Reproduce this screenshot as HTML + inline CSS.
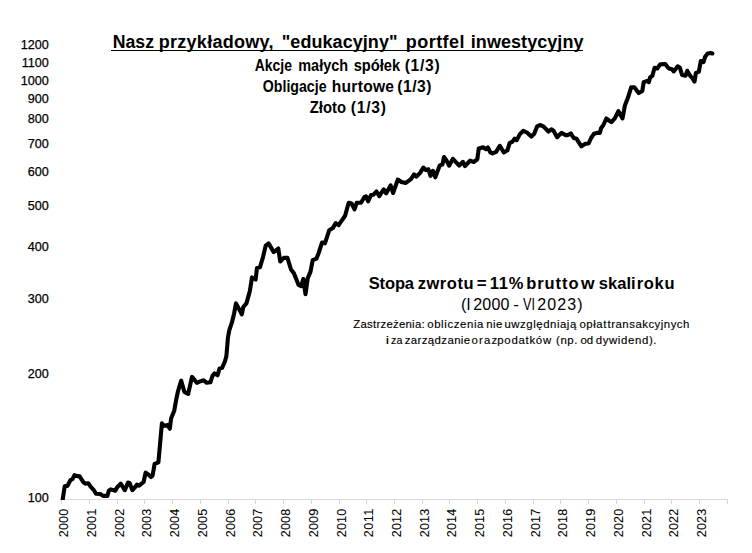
<!DOCTYPE html><html><head><meta charset="utf-8"><style>html,body{margin:0;padding:0;background:#fff;}svg{display:block;}</style></head><body>
<svg width="752" height="553" viewBox="0 0 752 553" font-family='"Liberation Sans", sans-serif'>
<rect width="752" height="553" fill="#fff"/>
<g stroke="#d9d9d9" stroke-width="1" fill="none" shape-rendering="crispEdges">
<line x1="61" y1="499.5" x2="728" y2="499.5"/>
<line x1="61.5" y1="499.5" x2="61.5" y2="504.0"/>
<line x1="89.5" y1="499.5" x2="89.5" y2="504.0"/>
<line x1="117.5" y1="499.5" x2="117.5" y2="504.0"/>
<line x1="144.5" y1="499.5" x2="144.5" y2="504.0"/>
<line x1="172.5" y1="499.5" x2="172.5" y2="504.0"/>
<line x1="200.5" y1="499.5" x2="200.5" y2="504.0"/>
<line x1="228.5" y1="499.5" x2="228.5" y2="504.0"/>
<line x1="255.5" y1="499.5" x2="255.5" y2="504.0"/>
<line x1="283.5" y1="499.5" x2="283.5" y2="504.0"/>
<line x1="311.5" y1="499.5" x2="311.5" y2="504.0"/>
<line x1="339.5" y1="499.5" x2="339.5" y2="504.0"/>
<line x1="366.5" y1="499.5" x2="366.5" y2="504.0"/>
<line x1="394.5" y1="499.5" x2="394.5" y2="504.0"/>
<line x1="422.5" y1="499.5" x2="422.5" y2="504.0"/>
<line x1="449.5" y1="499.5" x2="449.5" y2="504.0"/>
<line x1="477.5" y1="499.5" x2="477.5" y2="504.0"/>
<line x1="505.5" y1="499.5" x2="505.5" y2="504.0"/>
<line x1="533.5" y1="499.5" x2="533.5" y2="504.0"/>
<line x1="560.5" y1="499.5" x2="560.5" y2="504.0"/>
<line x1="588.5" y1="499.5" x2="588.5" y2="504.0"/>
<line x1="616.5" y1="499.5" x2="616.5" y2="504.0"/>
<line x1="644.5" y1="499.5" x2="644.5" y2="504.0"/>
<line x1="671.5" y1="499.5" x2="671.5" y2="504.0"/>
<line x1="699.5" y1="499.5" x2="699.5" y2="504.0"/>
<line x1="727.5" y1="499.5" x2="727.5" y2="504.0"/>
</g>
<g font-size="12.6" fill="#000" stroke="#000" stroke-width="0.25" text-anchor="end">
<text x="48.8" y="48.6">1200</text>
<text x="48.8" y="66.5">1100</text>
<text x="48.8" y="84.7">1000</text>
<text x="48.8" y="102.5">900</text>
<text x="48.8" y="123.4">800</text>
<text x="48.8" y="147.6">700</text>
<text x="48.8" y="175.7">600</text>
<text x="48.8" y="209.7">500</text>
<text x="48.8" y="251.0">400</text>
<text x="48.8" y="302.9">300</text>
<text x="48.8" y="377.6">200</text>
<text x="48.8" y="502.4">100</text>
</g>
<g font-size="12.6" fill="#000" stroke="#000" stroke-width="0.08">
<text transform="translate(67.7,537.2) rotate(-90)" x="0" y="0" textLength="28.4" lengthAdjust="spacing">2000</text>
<text transform="translate(95.7,537.2) rotate(-90)" x="0" y="0" textLength="28.4" lengthAdjust="spacing">2001</text>
<text transform="translate(123.7,537.2) rotate(-90)" x="0" y="0" textLength="28.4" lengthAdjust="spacing">2002</text>
<text transform="translate(150.7,537.2) rotate(-90)" x="0" y="0" textLength="28.4" lengthAdjust="spacing">2003</text>
<text transform="translate(178.7,537.2) rotate(-90)" x="0" y="0" textLength="28.4" lengthAdjust="spacing">2004</text>
<text transform="translate(206.7,537.2) rotate(-90)" x="0" y="0" textLength="28.4" lengthAdjust="spacing">2005</text>
<text transform="translate(234.7,537.2) rotate(-90)" x="0" y="0" textLength="28.4" lengthAdjust="spacing">2006</text>
<text transform="translate(261.7,537.2) rotate(-90)" x="0" y="0" textLength="28.4" lengthAdjust="spacing">2007</text>
<text transform="translate(289.7,537.2) rotate(-90)" x="0" y="0" textLength="28.4" lengthAdjust="spacing">2008</text>
<text transform="translate(317.7,537.2) rotate(-90)" x="0" y="0" textLength="28.4" lengthAdjust="spacing">2009</text>
<text transform="translate(345.7,537.2) rotate(-90)" x="0" y="0" textLength="28.4" lengthAdjust="spacing">2010</text>
<text transform="translate(372.7,537.2) rotate(-90)" x="0" y="0" textLength="28.4" lengthAdjust="spacing">2011</text>
<text transform="translate(400.7,537.2) rotate(-90)" x="0" y="0" textLength="28.4" lengthAdjust="spacing">2012</text>
<text transform="translate(428.7,537.2) rotate(-90)" x="0" y="0" textLength="28.4" lengthAdjust="spacing">2013</text>
<text transform="translate(455.7,537.2) rotate(-90)" x="0" y="0" textLength="28.4" lengthAdjust="spacing">2014</text>
<text transform="translate(483.7,537.2) rotate(-90)" x="0" y="0" textLength="28.4" lengthAdjust="spacing">2015</text>
<text transform="translate(511.7,537.2) rotate(-90)" x="0" y="0" textLength="28.4" lengthAdjust="spacing">2016</text>
<text transform="translate(539.7,537.2) rotate(-90)" x="0" y="0" textLength="28.4" lengthAdjust="spacing">2017</text>
<text transform="translate(566.7,537.2) rotate(-90)" x="0" y="0" textLength="28.4" lengthAdjust="spacing">2018</text>
<text transform="translate(594.7,537.2) rotate(-90)" x="0" y="0" textLength="28.4" lengthAdjust="spacing">2019</text>
<text transform="translate(622.7,537.2) rotate(-90)" x="0" y="0" textLength="28.4" lengthAdjust="spacing">2020</text>
<text transform="translate(650.7,537.2) rotate(-90)" x="0" y="0" textLength="28.4" lengthAdjust="spacing">2021</text>
<text transform="translate(677.7,537.2) rotate(-90)" x="0" y="0" textLength="28.4" lengthAdjust="spacing">2022</text>
<text transform="translate(705.7,537.2) rotate(-90)" x="0" y="0" textLength="28.4" lengthAdjust="spacing">2023</text>
</g>
<polyline points="62.7,499.4 64.7,486.3 67.5,485.9 70.3,480.3 72.6,478.9 74.5,475.2 77.3,476.1 79.6,476.4 83.3,482.2 85.2,483.6 88.4,483.3 90.8,486.8 93.6,489.8 96.0,493.7 100.3,494.0 103.1,495.9 107.4,495.9 108.8,490.7 110.7,489.4 115.3,490.7 116.9,487.7 120.7,483.7 124.8,490.2 128.0,482.6 129.6,482.9 132.4,490.2 136.0,486.1 136.9,484.6 139.1,485.7 143.6,482.0 145.6,472.6 148.8,474.9 151.0,477.1 152.6,475.5 154.6,463.9 158.4,462.3 161.9,423.4 163.5,425.9 167.6,425.1 169.8,428.8 171.1,418.6 174.3,410.4 176.2,399.6 178.1,390.8 181.2,380.7 184.4,392.0 188.2,393.9 192.0,376.9 196.8,382.8 200.1,381.4 203.7,380.3 206.6,382.8 210.4,382.3 212.4,376.0 214.5,373.4 217.6,375.3 219.6,368.4 222.1,367.8 224.7,362.0 226.3,356.5 226.7,352.4 227.9,338.0 229.2,330.6 232.0,322.2 234.1,313.5 236.0,303.4 239.2,309.2 241.8,314.3 243.3,307.0 246.4,303.4 247.6,299.1 249.8,291.2 252.0,277.4 255.6,279.6 257.0,268.0 259.9,267.3 262.8,257.9 265.7,245.6 268.6,243.4 273.7,252.1 278.3,248.5 280.2,261.5 283.8,257.9 287.4,257.9 291.0,269.5 293.9,273.3 298.5,284.8 301.2,286.1 303.3,278.9 305.5,294.1 307.7,278.4 310.5,271.6 312.7,260.1 316.4,258.6 318.5,253.5 322.0,242.6 324.9,243.3 329.2,230.3 332.8,228.1 335.7,223.1 338.6,225.2 341.5,220.9 345.1,215.8 348.7,202.8 351.6,203.5 354.5,209.3 356.7,202.8 361.0,202.8 364.3,197.2 366.0,196.4 368.1,201.3 371.0,195.1 373.5,194.7 376.5,191.5 379.3,196.2 383.7,189.4 386.2,193.3 390.6,185.4 393.1,193.0 397.8,179.6 401.4,181.9 405.8,183.0 411.2,178.8 414.0,174.4 416.5,176.6 420.1,172.9 423.3,167.6 425.9,170.1 428.4,169.3 430.5,175.8 432.9,170.8 435.3,177.3 439.6,165.7 442.5,164.3 444.0,157.0 446.2,159.9 449.1,165.7 452.9,158.8 459.2,165.6 462.9,161.8 465.0,166.0 470.1,160.6 473.7,162.0 477.3,159.3 478.8,148.4 483.1,147.3 486.0,149.2 487.8,147.4 490.3,152.3 492.5,153.4 496.1,151.9 499.8,145.8 503.8,152.5 507.4,150.3 509.6,143.1 512.5,141.6 514.6,138.7 516.8,140.2 519.7,134.4 523.3,130.8 526.9,132.5 531.3,136.6 534.2,133.7 537.1,126.4 540.0,125.0 543.4,126.4 548.4,131.5 551.3,129.3 553.5,130.8 557.1,137.3 561.4,132.9 565.8,135.1 567.9,135.1 570.8,133.4 573.7,138.0 576.6,138.7 578.8,142.4 581.4,146.4 585.3,143.8 588.6,143.5 591.1,138.0 594.0,133.7 596.9,132.9 599.8,132.9 601.2,127.9 603.4,125.0 606.3,118.5 609.2,120.7 611.4,122.1 614.8,118.4 618.4,111.2 622.5,118.4 624.9,105.4 627.8,98.1 631.2,87.3 634.3,87.3 638.7,93.1 642.3,90.9 643.7,82.2 647.4,80.8 648.8,82.2 650.2,77.2 652.4,75.7 654.6,67.8 657.2,68.5 660.3,64.3 665.4,64.1 668.0,67.6 669.1,68.5 671.9,69.2 673.7,71.4 677.7,66.3 679.9,67.8 682.1,75.0 685.6,75.7 687.2,70.8 690.5,76.2 692.6,78.4 694.5,81.6 695.9,72.9 698.8,71.9 700.8,61.0 703.5,62.1 705.1,56.7 707.8,53.4 710.5,52.9 712.4,53.4" fill="none" stroke="#000" stroke-width="4.1" stroke-linejoin="round" stroke-linecap="round"/>
<rect x="55" y="500" width="16" height="7" fill="#fff"/>
<line x1="61.5" y1="500" x2="61.5" y2="504" stroke="#d9d9d9" stroke-width="1" shape-rendering="crispEdges"/>
<text id="t0" x="112.73" y="47.8" font-size="18.0" font-weight="bold" textLength="41.30" lengthAdjust="spacingAndGlyphs">Nasz</text>
<text id="t1" transform="translate(158.78,47.8) scale(1.0,1)" font-size="18.0" font-weight="bold" textLength="114.76" lengthAdjust="spacing">przykładowy,</text>
<text id="t2" transform="translate(281.78,47.8) scale(1.0,1)" font-size="18.0" font-weight="bold" textLength="115.75" lengthAdjust="spacing">"edukacyjny"</text>
<text id="t3" transform="translate(405.75,47.8) scale(1.0,1)" font-size="18.0" font-weight="bold" textLength="58.80" lengthAdjust="spacing">portfel</text>
<text id="t4" transform="translate(470.78,47.8) scale(1.0,1)" font-size="18.0" font-weight="bold" textLength="112.72" lengthAdjust="spacing">inwestycyjny</text>
<text id="t5" x="254.74" y="71.0" font-size="15.6" font-weight="bold" textLength="37.26" lengthAdjust="spacingAndGlyphs">Akcje</text>
<text id="t6" x="298.25" y="71.0" font-size="15.6" font-weight="bold" textLength="49.79" lengthAdjust="spacingAndGlyphs">małych</text>
<text id="t7" x="353.74" y="71.0" font-size="15.6" font-weight="bold" textLength="46.35" lengthAdjust="spacingAndGlyphs">spółek</text>
<text id="t8" transform="translate(404.69,71.0) scale(1.0,1)" font-size="15.6" font-weight="bold" textLength="34.93" lengthAdjust="spacing">(1/3)</text>
<text id="t9" x="262.79" y="91.7" font-size="15.6" font-weight="bold" textLength="63.74" lengthAdjust="spacingAndGlyphs">Obligacje</text>
<text id="t10" transform="translate(331.76,91.7) scale(1.0,1)" font-size="15.6" font-weight="bold" textLength="62.30" lengthAdjust="spacing">hurtowe</text>
<text id="t11" transform="translate(397.26,91.7) scale(1.0,1)" font-size="15.6" font-weight="bold" textLength="34.29" lengthAdjust="spacing">(1/3)</text>
<text id="t12" x="309.76" y="112.8" font-size="15.6" font-weight="bold" textLength="36.26" lengthAdjust="spacingAndGlyphs">Złoto</text>
<text id="t13" transform="translate(350.76,112.8) scale(1.0,1)" font-size="15.6" font-weight="bold" textLength="35.29" lengthAdjust="spacing">(1/3)</text>
<text id="t14" transform="translate(368.74,288.7) scale(1.0,1)" font-size="16.5" font-weight="bold" textLength="45.30" lengthAdjust="spacing">Stopa</text>
<text id="t15" transform="translate(417.71,288.7) scale(1.0,1)" font-size="16.5" font-weight="bold" textLength="55.87" lengthAdjust="spacing">zwrotu</text>
<text id="t16" x="476.88" y="288.7" font-size="16.5" font-weight="bold" textLength="9.93" lengthAdjust="spacingAndGlyphs">=</text>
<text id="t17" transform="translate(489.74,288.7) scale(1.0,1)" font-size="16.5" font-weight="bold" textLength="33.77" lengthAdjust="spacing">11%</text>
<text id="t18" transform="translate(526.22,288.7) scale(1.0,1)" font-size="16.5" font-weight="bold" textLength="52.36" lengthAdjust="spacing">brutto</text>
<text id="t19" x="581.13" y="288.7" font-size="16.5" font-weight="bold" textLength="13.54" lengthAdjust="spacingAndGlyphs">w</text>
<text id="t20" transform="translate(598.72,288.7) scale(1.0,1)" font-size="16.5" font-weight="bold" textLength="36.89" lengthAdjust="spacing">skali</text>
<text id="t21" transform="translate(636.71,288.7) scale(1.0,1)" font-size="16.5" font-weight="bold" textLength="37.85" lengthAdjust="spacing">roku</text>
<text id="t22" x="460.98" y="310.0" font-size="16.0" font-weight="normal" textLength="9.81" lengthAdjust="spacingAndGlyphs">(I</text>
<text id="t23" transform="translate(473.20,310.0) scale(1.0,1)" font-size="16.0" font-weight="normal" textLength="36.31" lengthAdjust="spacing">2000</text>
<text id="t24" x="513.34" y="310.0" font-size="16.0" font-weight="normal" textLength="5.71" lengthAdjust="spacingAndGlyphs">-</text>
<text id="t25" x="523.10" y="310.0" font-size="16.0" font-weight="normal" textLength="11.97" lengthAdjust="spacingAndGlyphs">VI</text>
<text id="t26" transform="translate(537.23,310.0) scale(1.0,1)" font-size="16.0" font-weight="normal" textLength="45.37" lengthAdjust="spacing">2023)</text>
<text id="t27" stroke="#000" stroke-width="0.15" transform="translate(353.29,328.0) scale(1.0,1)" font-size="11.4" font-weight="normal" textLength="71.35" lengthAdjust="spacing">Zastrzeżenia:</text>
<text id="t28" stroke="#000" stroke-width="0.15" transform="translate(427.21,328.0) scale(1.0,1)" font-size="11.4" font-weight="normal" textLength="56.20" lengthAdjust="spacing">obliczenia</text>
<text id="t29" stroke="#000" stroke-width="0.15" transform="translate(486.31,328.0) scale(1.0,1)" font-size="11.4" font-weight="normal" textLength="16.08" lengthAdjust="spacing">nie</text>
<text id="t30" stroke="#000" stroke-width="0.15" transform="translate(504.49,328.0) scale(1.0,1)" font-size="11.4" font-weight="normal" textLength="71.74" lengthAdjust="spacing">uwzględniają</text>
<text id="t31" stroke="#000" stroke-width="0.15" transform="translate(579.42,328.0) scale(1.0,1)" font-size="11.4" font-weight="normal" textLength="27.03" lengthAdjust="spacing">opłat</text>
<text id="t32" stroke="#000" stroke-width="0.15" transform="translate(607.58,328.0) scale(1.0,1)" font-size="11.4" font-weight="normal" textLength="81.82" lengthAdjust="spacing">transakcyjnych</text>
<text id="t33" stroke="#000" stroke-width="0.15" x="385.67" y="343.6" font-size="11.4" font-weight="normal" textLength="3.28" lengthAdjust="spacingAndGlyphs">i</text>
<text id="t34" stroke="#000" stroke-width="0.15" x="391.03" y="343.6" font-size="11.4" font-weight="normal" textLength="11.34" lengthAdjust="spacingAndGlyphs">za</text>
<text id="t35" stroke="#000" stroke-width="0.15" transform="translate(404.77,343.6) scale(1.0,1)" font-size="11.4" font-weight="normal" textLength="65.35" lengthAdjust="spacing">zarządzanie</text>
<text id="t36" stroke="#000" stroke-width="0.15" transform="translate(471.50,343.6) scale(1.0,1)" font-size="11.4" font-weight="normal" textLength="25.59" lengthAdjust="spacing">oraz</text>
<text id="t37" stroke="#000" stroke-width="0.15" transform="translate(497.31,343.6) scale(1.0,1)" font-size="11.4" font-weight="normal" textLength="53.83" lengthAdjust="spacing">podatków</text>
<text id="t38" stroke="#000" stroke-width="0.15" transform="translate(556.06,343.6) scale(1.0,1)" font-size="11.4" font-weight="normal" textLength="21.36" lengthAdjust="spacing">(np.</text>
<text id="t39" stroke="#000" stroke-width="0.15" x="580.47" y="343.6" font-size="11.4" font-weight="normal" textLength="12.70" lengthAdjust="spacingAndGlyphs">od</text>
<text id="t40" stroke="#000" stroke-width="0.15" transform="translate(595.67,343.6) scale(1.0,1)" font-size="11.4" font-weight="normal" textLength="60.83" lengthAdjust="spacing">dywidend).</text>
<rect x="111" y="50" width="472" height="1" fill="#000"/>
</svg></body></html>
